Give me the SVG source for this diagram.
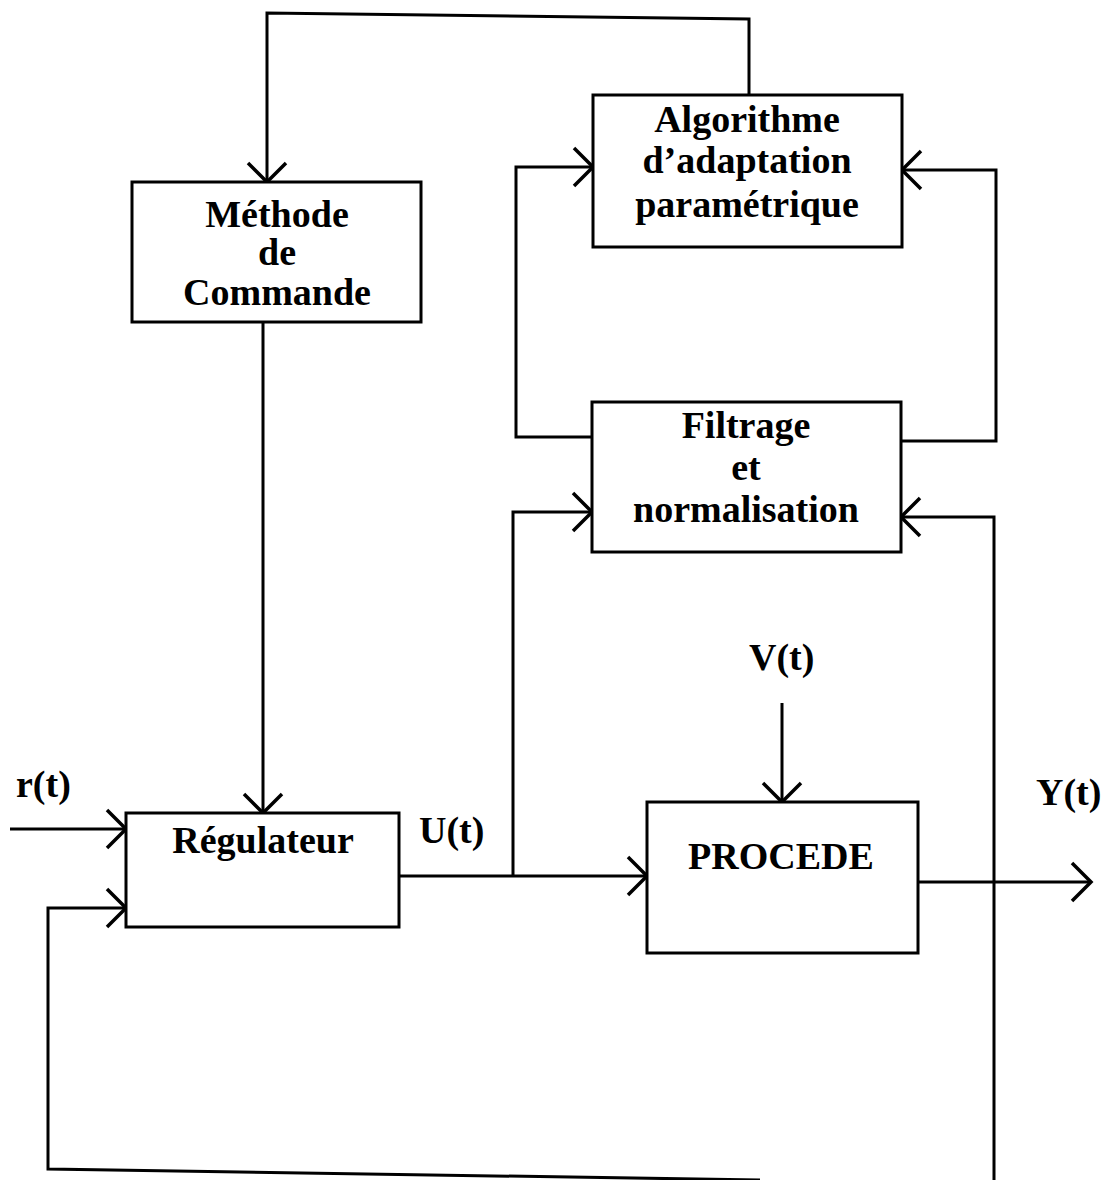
<svg xmlns="http://www.w3.org/2000/svg" width="1104" height="1180" viewBox="0 0 1104 1180">
<defs>
<style>
.box{fill:#fff;stroke:#000;stroke-width:3}
.ln{fill:none;stroke:#000;stroke-width:3;stroke-linejoin:miter}
.arr{marker-end:url(#v)}
text{font-family:"Liberation Serif","Times New Roman",serif;font-weight:bold;font-size:38px;fill:#000}
.c{text-anchor:middle}
</style>
<marker id="v" markerUnits="userSpaceOnUse" markerWidth="44" markerHeight="44" refX="22" refY="22" orient="auto" viewBox="0 0 44 44">
<path d="M 3 3 L 22 22 L 3 41" fill="none" stroke="#000" stroke-width="3.5"/>
</marker>
</defs>
<rect width="1104" height="1180" fill="#fff"/>
<g id="connectors">
<path class="ln arr" d="M 749 95 L 749 19 L 267 13 L 267 182"/>
<path class="ln arr" d="M 263 322 L 263 813"/>
<path class="ln arr" d="M 10 829 L 126 829"/>
<path class="ln arr" d="M 760 1180 L 48 1169 L 48 908 L 126 908"/>
<path class="ln arr" d="M 399 876 L 647 876"/>
<path class="ln arr" d="M 513 876 L 513 512 L 592 512"/>
<path class="ln arr" d="M 592 437 L 516 437 L 516 167 L 593 167"/>
<path class="ln arr" d="M 901 441 L 996 441 L 996 170 L 902 170"/>
<path class="ln arr" d="M 994 1180 L 994 517 L 901 517"/>
<path class="ln arr" d="M 782 703 L 782 802"/>
<path class="ln arr" d="M 918 882 L 1091 882"/>
</g>
<g id="methode">
<rect class="box" x="132" y="182" width="289" height="140"/>
<text class="c" x="277" y="227">Méthode</text>
<text class="c" x="277" y="265">de</text>
<text class="c" x="277" y="305">Commande</text>
</g>
<g id="algorithme">
<rect class="box" x="593" y="95" width="309" height="152"/>
<text class="c" x="747" y="132">Algorithme</text>
<text class="c" x="747" y="173">d’adaptation</text>
<text class="c" x="747" y="217">paramétrique</text>
</g>
<g id="filtrage">
<rect class="box" x="592" y="402" width="309" height="150"/>
<text class="c" x="746" y="438">Filtrage</text>
<text class="c" x="746" y="480">et</text>
<text class="c" x="746" y="522">normalisation</text>
</g>
<g id="regulateur">
<rect class="box" x="126" y="813" width="273" height="114"/>
<text class="c" x="263" y="853">Régulateur</text>
</g>
<g id="procede">
<rect class="box" x="647" y="802" width="271" height="151"/>
<text class="c" x="781" y="869">PROCEDE</text>
</g>
<g id="labels">
<text x="16" y="797">r(t)</text>
<text x="419" y="843">U(t)</text>
<text x="749" y="670">V(t)</text>
<text x="1036" y="805">Y(t)</text>
</g>
</svg>
